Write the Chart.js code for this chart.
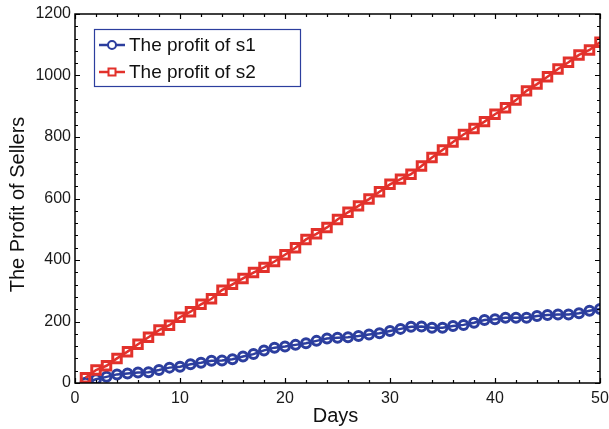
<!DOCTYPE html>
<html>
<head>
<meta charset="utf-8">
<script src="https://cdn.jsdelivr.net/npm/chart.js@4/dist/chart.umd.min.js"></script>
<style>
  html, body { margin: 0; padding: 0; background: #fff; }
  #wrap { width: 609px; height: 429px; position: relative; }
</style>
</head>
<body>
<div id="wrap"><canvas id="c" width="609" height="429"></canvas></div>
<script>
// Days on the horizontal axis
const days = [1, 2, 3, 4, 5, 6, 7, 8, 9, 10,
              11, 12, 13, 14, 15, 16, 17, 18, 19, 20,
              21, 22, 23, 24, 25, 26, 27, 28, 29, 30,
              31, 32, 33, 34, 35, 36, 37, 38, 39, 40,
              41, 42, 43, 44, 45, 46, 47, 48, 49, 50];

// Profit of seller s1 per day
const profitS1 = [1, 12, 20, 28, 31, 34, 35, 42, 50, 53,
                  61, 66, 72, 73, 77, 86, 94, 106, 115, 119,
                  124, 129, 137, 145, 147, 149, 153, 158, 162, 169,
                  176, 183, 184, 180, 180, 185, 189, 196, 205, 207,
                  212, 212, 212, 218, 221, 223, 223, 227, 235, 241];

// Profit of seller s2 per day
const profitS2 = [17, 42, 56, 80, 102, 126, 149, 172, 188, 214,
                  232, 256, 274, 302, 321, 340, 359, 376, 395, 417,
                  440, 467, 485, 506, 532, 555, 576, 598, 622, 646,
                  663, 679, 706, 733, 758, 784, 808, 828, 850, 874,
                  895, 920, 950, 972, 996, 1021, 1043, 1067, 1083, 1108];

const seriesNames = ['The profit of s1', 'The profit of s2'];
const xTicks = [0, 10, 20, 30, 40, 50];
const yTicks = [0, 200, 400, 600, 800, 1000, 1200];
const xTitle = 'Days';
const yTitle = 'The Profit of Sellers';

const BLUE = '#2c3e9e';
const RED = '#e2312b';
const FONT = '"Liberation Sans", Arial, Helvetica, sans-serif';

function pairs(xs, ys) { return xs.map((x, i) => ({ x: x, y: ys[i] })); }

// Frame, inward ticks on all four sides, axis titles and legend box
const framePlugin = {
  id: 'frame',
  afterDraw(chart) {
    const ctx = chart.ctx;
    const a = chart.chartArea;
    const xs = chart.scales.x, ys = chart.scales.y;
    ctx.save();
    ctx.strokeStyle = '#000';
    ctx.lineWidth = 1.5;
    ctx.strokeRect(a.left, a.top, a.right - a.left, a.bottom - a.top);

    ctx.lineWidth = 1.2;
    ctx.beginPath();
    // x ticks: major every 10, minor every 2
    for (let v = xs.min; v <= xs.max + 1e-9; v += 2) {
      const px = Math.round(xs.getPixelForValue(v)) + 0.5;
      const len = (v % 10 === 0) ? 5 : 3;
      ctx.moveTo(px, a.bottom); ctx.lineTo(px, a.bottom - len);
      ctx.moveTo(px, a.top); ctx.lineTo(px, a.top + len);
    }
    // y ticks: major every 200, minor every 40
    for (let v = ys.min; v <= ys.max + 1e-9; v += 40) {
      const py = Math.round(ys.getPixelForValue(v)) + 0.5;
      const len = (v % 200 === 0) ? 5 : 3;
      ctx.moveTo(a.left, py); ctx.lineTo(a.left + len, py);
      ctx.moveTo(a.right, py); ctx.lineTo(a.right - len, py);
    }
    ctx.stroke();

    // axis titles
    ctx.fillStyle = '#111';
    ctx.font = '20px ' + FONT;
    ctx.textAlign = 'center';
    ctx.textBaseline = 'middle';
    ctx.fillText(xTitle, (a.left + a.right) / 2 - 2, 416);
    ctx.save();
    ctx.translate(18, (a.top + a.bottom) / 2 + 6);
    ctx.rotate(-Math.PI / 2);
    ctx.fillText(yTitle, 0, 0);
    ctx.restore();

    // legend
    const lx = 94.5, ly = 29.5, lw = 206, lh = 57;
    ctx.fillStyle = '#fff';
    ctx.fillRect(lx, ly, lw, lh);
    ctx.strokeStyle = BLUE;
    ctx.lineWidth = 1.2;
    ctx.strokeRect(lx, ly, lw, lh);
    const rows = [
      { y: 45, color: BLUE, shape: 'circle', text: seriesNames[0] },
      { y: 72, color: RED, shape: 'square', text: seriesNames[1] }
    ];
    rows.forEach(r => {
      ctx.strokeStyle = r.color;
      ctx.lineWidth = 2.5;
      ctx.beginPath();
      ctx.moveTo(99, r.y); ctx.lineTo(125, r.y);
      ctx.stroke();
      ctx.lineWidth = 2;
      ctx.beginPath();
      if (r.shape === 'circle') {
        ctx.arc(112, r.y, 4, 0, Math.PI * 2);
      } else {
        ctx.rect(108.5, r.y - 3.5, 7, 7);
      }
      ctx.fillStyle = '#fff';
      ctx.fill();
      ctx.stroke();
      ctx.fillStyle = '#111';
      ctx.font = '19px ' + FONT;
      ctx.textAlign = 'left';
      ctx.textBaseline = 'middle';
      ctx.fillText(r.text, 129, r.y + 1);
    });
    ctx.restore();
  }
};

new Chart(document.getElementById('c'), {
  type: 'line',
  data: {
    datasets: [
      {
        label: seriesNames[0],
        data: pairs(days, profitS1),
        borderColor: BLUE,
        borderWidth: 2.5,
        pointStyle: 'circle',
        pointRadius: 4.5,
        pointBorderWidth: 3,
        pointBorderColor: BLUE,
        pointBackgroundColor: 'rgba(0,0,0,0)',
        tension: 0,
        order: 2
      },
      {
        label: seriesNames[1],
        data: pairs(days, profitS2),
        borderColor: RED,
        borderWidth: 2.5,
        pointStyle: 'rect',
        pointRadius: 6,
        pointBorderWidth: 3,
        pointBorderColor: RED,
        pointBackgroundColor: 'rgba(0,0,0,0)',
        tension: 0,
        order: 1
      }
    ]
  },
  options: {
    responsive: false,
    animation: false,
    devicePixelRatio: 1,
    layout: { padding: { top: 14, right: 6, left: 0, bottom: 0 } },
    plugins: {
      legend: { display: false },
      tooltip: { enabled: false }
    },
    scales: {
      x: {
        type: 'linear',
        min: 0,
        max: 50,
        afterBuildTicks: s => { s.ticks = xTicks.map(v => ({ value: v })); },
        afterFit: s => { s.height = 46; s.paddingLeft = 0; s.paddingRight = 0; },
        grid: { display: false, drawTicks: false },
        border: { display: false },
        ticks: {
          autoSkip: false,
          maxRotation: 0,
          padding: 6,
          color: '#1a1a1a',
          font: { family: FONT, size: 16 },
          callback: v => String(v)
        }
      },
      y: {
        type: 'linear',
        min: 0,
        max: 1200,
        afterBuildTicks: s => { s.ticks = yTicks.map(v => ({ value: v })); },
        afterFit: s => { s.width = 75; s.paddingTop = 0; s.paddingBottom = 0; },
        grid: { display: false, drawTicks: false },
        border: { display: false },
        ticks: {
          padding: 4,
          color: '#1a1a1a',
          font: { family: FONT, size: 16 },
          callback: v => String(v)
        }
      }
    }
  },
  plugins: [framePlugin]
});
</script>
</body>
</html>
